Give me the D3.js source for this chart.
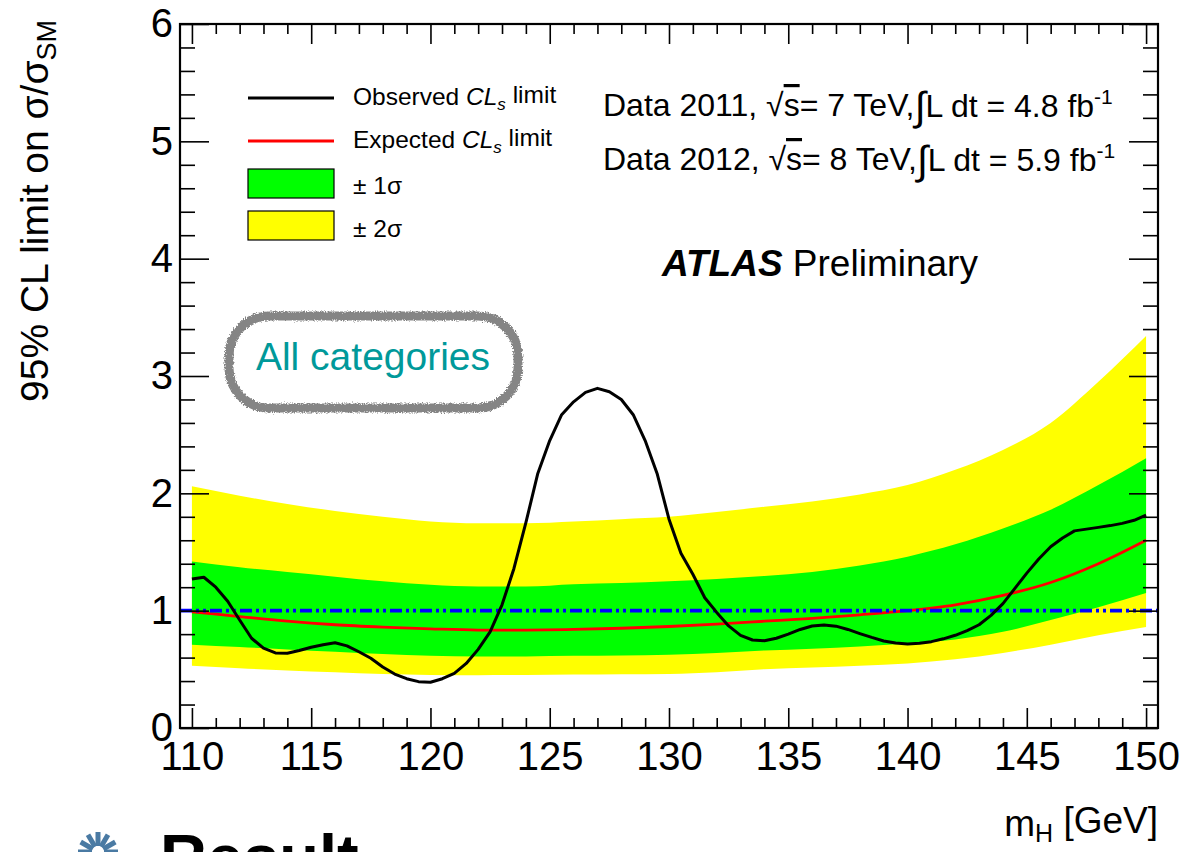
<!DOCTYPE html>
<html>
<head>
<meta charset="utf-8">
<script src="https://cdn.jsdelivr.net/npm/d3@7"></script>
<style>
  html, body { margin: 0; padding: 0; background: #fff; }
  svg { display: block; }
  text { font-family: "Liberation Sans", Arial, Helvetica, sans-serif; }
</style>
</head>
<body>
<svg id="chart" width="1186" height="852"></svg>
<script>
// Higgs mass hypothesis for the observed limit scan (GeV)
const obsMass = [
  110.0, 110.5, 111.0, 111.5, 112.0, 112.5, 113.0, 113.5, 114.0, 114.5,
  115.0, 115.5, 116.0, 116.5, 117.0, 117.5, 118.0, 118.5, 119.0, 119.5,
  120.0, 120.5, 121.0, 121.5, 122.0, 122.5, 123.0, 123.5, 124.0, 124.5,
  125.0, 125.5, 126.0, 126.5, 127.0, 127.5, 128.0, 128.5, 129.0, 129.5,
  130.0, 130.5, 131.0, 131.5, 132.0, 132.5, 133.0, 133.5, 134.0, 134.5,
  135.0, 135.5, 136.0, 136.5, 137.0, 137.5, 138.0, 138.5, 139.0, 139.5,
  140.0, 140.5, 141.0, 141.5, 142.0, 142.5, 143.0, 143.5, 144.0, 144.5,
  145.0, 145.5, 146.0, 146.5, 147.0, 147.5, 148.0, 148.5, 149.0, 149.5,
  150.0
];
// Observed 95% CL limit on sigma/sigma_SM
const obsLimit = [
  1.27, 1.285, 1.20, 1.08, 0.92, 0.765, 0.68, 0.64, 0.637, 0.66,
  0.688, 0.71, 0.727, 0.70, 0.65, 0.594, 0.52, 0.46, 0.42, 0.395,
  0.39, 0.42, 0.466, 0.55, 0.67, 0.82, 1.05, 1.36, 1.75, 2.17,
  2.45, 2.67, 2.78, 2.86, 2.895, 2.866, 2.80, 2.67, 2.45, 2.17,
  1.78, 1.49, 1.31, 1.11, 0.985, 0.87, 0.79, 0.75, 0.744, 0.765,
  0.80, 0.84, 0.869, 0.878, 0.868, 0.84, 0.805, 0.772, 0.742, 0.725,
  0.716, 0.722, 0.736, 0.76, 0.79, 0.83, 0.88, 0.96, 1.06, 1.19,
  1.32, 1.44, 1.545, 1.62, 1.68, 1.695, 1.71, 1.725, 1.744, 1.77,
  1.815
];

// Expected limit and its uncertainty bands
const expMass = [110, 112, 114, 116, 118, 120, 122, 124, 126, 128, 130,
                 132, 134, 136, 138, 140, 142, 144, 146, 148, 150];
const expLimit = [0.99, 0.95, 0.91, 0.88, 0.86, 0.845, 0.835, 0.835, 0.84, 0.85, 0.865,
                  0.885, 0.91, 0.935, 0.965, 1.00, 1.05, 1.13, 1.24, 1.40, 1.60];
const plus2Sigma = [2.06, 1.98, 1.91, 1.85, 1.80, 1.76, 1.745, 1.745, 1.76, 1.78, 1.80,
                    1.84, 1.885, 1.93, 1.99, 2.07, 2.20, 2.37, 2.60, 2.95, 3.34];
const plus1Sigma = [1.42, 1.37, 1.33, 1.29, 1.25, 1.22, 1.205, 1.205, 1.225, 1.235, 1.25,
                    1.27, 1.295, 1.33, 1.385, 1.46, 1.565, 1.70, 1.86, 2.07, 2.30];
const minus1Sigma = [0.71, 0.69, 0.67, 0.65, 0.63, 0.615, 0.61, 0.61, 0.615, 0.618, 0.625,
                     0.64, 0.66, 0.675, 0.695, 0.72, 0.755, 0.82, 0.92, 1.03, 1.15];
const minus2Sigma = [0.53, 0.51, 0.49, 0.475, 0.46, 0.452, 0.45, 0.452, 0.455, 0.458, 0.46,
                     0.475, 0.50, 0.515, 0.53, 0.55, 0.585, 0.64, 0.71, 0.79, 0.86];

// Standard Model reference
const smLevel = 1;

// Axis ticks
const xMajorTicks = [110, 115, 120, 125, 130, 135, 140, 145, 150];
const xMinorTicks = d3.range(110, 151).filter(v => v % 5 !== 0);
const yMajorTicks = [0, 1, 2, 3, 4, 5, 6];
const yMinorTicks = d3.range(1, 30).filter(i => i % 5 !== 0).map(i => i / 5);

const svg = d3.select("#chart");

const frame = { left: 180, right: 1158, top: 24, bottom: 728 };
const x = d3.scaleLinear().domain([109.5, 150.5]).range([frame.left, frame.right]);
const y = d3.scaleLinear().domain([0, 6]).range([frame.bottom, frame.top]);

// ---- Bands ----
const bandRows = expMass.map((m, i) => ({
  m, exp: expLimit[i],
  p2: plus2Sigma[i], p1: plus1Sigma[i], m1: minus1Sigma[i], m2: minus2Sigma[i]
}));

svg.append("path")
  .datum(bandRows)
  .attr("fill", "#ffff00")
  .attr("d", d3.area().x(d => x(d.m)).y0(d => y(d.m2)).y1(d => y(d.p2)).curve(d3.curveMonotoneX));

svg.append("path")
  .datum(bandRows)
  .attr("fill", "#00ff00")
  .attr("d", d3.area().x(d => x(d.m)).y0(d => y(d.m1)).y1(d => y(d.p1)).curve(d3.curveMonotoneX));

// ---- Expected limit ----
svg.append("path")
  .datum(bandRows)
  .attr("fill", "none")
  .attr("stroke", "#ff0000")
  .attr("stroke-width", 2.8)
  .attr("d", d3.line().x(d => x(d.m)).y(d => y(d.exp)).curve(d3.curveMonotoneX));

// ---- SM = 1 line ----
svg.append("line")
  .attr("x1", frame.left).attr("x2", frame.right)
  .attr("y1", y(smLevel)).attr("y2", y(smLevel))
  .attr("stroke", "#0000ff")
  .attr("stroke-width", 3.6)
  .attr("stroke-dasharray", "12,4,3,4,3,4");

// ---- Observed limit ----
const obsRows = obsMass.map((m, i) => ({ m, v: obsLimit[i] }));
svg.append("path")
  .datum(obsRows)
  .attr("fill", "none")
  .attr("stroke", "#000")
  .attr("stroke-width", 3)
  .attr("stroke-linejoin", "round")
  .attr("d", d3.line().x(d => x(d.m)).y(d => y(d.v)));

// ---- Axes (ticks pointing inwards, mirrored on all four sides) ----
const tickStroke = g => g.selectAll("line").attr("stroke", "#000").attr("stroke-width", 1.6);
const noDomain = g => g.select(".domain").remove();
const labelFont = g => g.selectAll("text")
  .attr("font-family", "'Liberation Sans', Arial, sans-serif")
  .attr("font-size", 40).attr("fill", "#000");

// bottom
svg.append("g").attr("transform", `translate(0,${frame.bottom})`)
  .call(d3.axisBottom(x).tickValues(xMajorTicks).tickSize(-20).tickPadding(14).tickFormat(d3.format("d")))
  .call(noDomain).call(tickStroke).call(labelFont);
svg.append("g").attr("transform", `translate(0,${frame.bottom})`)
  .call(d3.axisBottom(x).tickValues(xMinorTicks).tickSize(-10).tickFormat(""))
  .call(noDomain).call(tickStroke);
// top
svg.append("g").attr("transform", `translate(0,${frame.top})`)
  .call(d3.axisTop(x).tickValues(xMajorTicks).tickSize(-20).tickFormat(""))
  .call(noDomain).call(tickStroke);
svg.append("g").attr("transform", `translate(0,${frame.top})`)
  .call(d3.axisTop(x).tickValues(xMinorTicks).tickSize(-10).tickFormat(""))
  .call(noDomain).call(tickStroke);
// left
svg.append("g").attr("transform", `translate(${frame.left},0)`)
  .call(d3.axisLeft(y).tickValues(yMajorTicks).tickSize(-29).tickPadding(7).tickFormat(d3.format("d")))
  .call(noDomain).call(tickStroke).call(labelFont);
svg.append("g").attr("transform", `translate(${frame.left},0)`)
  .call(d3.axisLeft(y).tickValues(yMinorTicks).tickSize(-15).tickFormat(""))
  .call(noDomain).call(tickStroke);
// right
svg.append("g").attr("transform", `translate(${frame.right},0)`)
  .call(d3.axisRight(y).tickValues(yMajorTicks).tickSize(-29).tickFormat(""))
  .call(noDomain).call(tickStroke);
svg.append("g").attr("transform", `translate(${frame.right},0)`)
  .call(d3.axisRight(y).tickValues(yMinorTicks).tickSize(-15).tickFormat(""))
  .call(noDomain).call(tickStroke);

// frame
svg.append("rect")
  .attr("x", frame.left).attr("y", frame.top)
  .attr("width", frame.right - frame.left).attr("height", frame.bottom - frame.top)
  .attr("fill", "none").attr("stroke", "#000").attr("stroke-width", 2.2);

// ---- Axis titles ----
const yTitle = svg.append("text")
  .attr("transform", "translate(48,20) rotate(-90)")
  .attr("text-anchor", "end")
  .attr("font-size", 39);
yTitle.append("tspan").text("95% CL limit on σ/σ");
yTitle.append("tspan").attr("dy", "0.3em").attr("font-size", 27).text("SM");

const xTitle = svg.append("text")
  .attr("x", 1158).attr("y", 836)
  .attr("text-anchor", "end")
  .attr("font-size", 37);
xTitle.append("tspan").text("m");
xTitle.append("tspan").attr("dy", "0.25em").attr("font-size", 25).text("H");
xTitle.append("tspan").attr("dy", "-0.25em").text(" [GeV]");

// ---- Legend ----
const legend = svg.append("g");
const legX0 = 248, legX1 = 334, legText = 353;
legend.append("line").attr("x1", legX0).attr("x2", legX1).attr("y1", 98).attr("y2", 98)
  .attr("stroke", "#000").attr("stroke-width", 3);
legend.append("line").attr("x1", legX0).attr("x2", legX1).attr("y1", 141).attr("y2", 141)
  .attr("stroke", "#ff0000").attr("stroke-width", 3);
legend.append("rect").attr("x", legX0).attr("y", 169).attr("width", legX1 - legX0).attr("height", 29)
  .attr("fill", "#00ff00").attr("stroke", "#000").attr("stroke-width", 1.2);
legend.append("rect").attr("x", legX0).attr("y", 211).attr("width", legX1 - legX0).attr("height", 29)
  .attr("fill", "#ffff00").attr("stroke", "#000").attr("stroke-width", 1.2);

function clsLabel(prefix, yBase) {
  const t = legend.append("text").attr("x", legText).attr("y", yBase).attr("font-size", 24.5);
  t.append("tspan").text(prefix + " ");
  t.append("tspan").attr("font-style", "italic").text("CL");
  t.append("tspan").attr("font-style", "italic").attr("font-size", 17).attr("dy", "0.3em").text("s");
  t.append("tspan").attr("dy", "-0.3em").text(" limit");
}
clsLabel("Observed", 105);
clsLabel("Expected", 148);
legend.append("text").attr("x", legText).attr("y", 194).attr("font-size", 24.5).text("± 1σ");
legend.append("text").attr("x", legText).attr("y", 237).attr("font-size", 24.5).text("± 2σ");

// ---- Luminosity labels ----
function lumiLine(year, energy, lumi, yBase) {
  const t = svg.append("text").attr("x", 603).attr("y", yBase).attr("font-size", 32);
  t.append("tspan").text(`Data ${year}, √`);
  t.append("tspan").attr("text-decoration", "overline").text("s");
  t.append("tspan").text(`= ${energy} TeV,`);
  t.append("tspan").attr("font-size", 40).attr("dy", "0.1em").text("∫");
  t.append("tspan").attr("dy", "-0.1em").text(`L dt = ${lumi} fb`);
  t.append("tspan").attr("font-size", 21).attr("dy", "-0.6em").text("-1");
}
lumiLine("2011", "7", "4.8", 116);
lumiLine("2012", "8", "5.9", 170);

const atlas = svg.append("text").attr("x", 662).attr("y", 276).attr("font-size", 37);
atlas.append("tspan").attr("font-weight", "bold").attr("font-style", "italic").text("ATLAS");
atlas.append("tspan").text(" Preliminary");

// ---- Category tag ----
const defs = svg.append("defs");
const rough = defs.append("filter").attr("id", "rough")
  .attr("x", "-10%").attr("y", "-20%").attr("width", "120%").attr("height", "140%");
rough.append("feTurbulence").attr("type", "fractalNoise").attr("baseFrequency", 0.9)
  .attr("numOctaves", 2).attr("seed", 3).attr("result", "noise");
rough.append("feDisplacementMap").attr("in", "SourceGraphic").attr("in2", "noise")
  .attr("scale", 5).attr("xChannelSelector", "R").attr("yChannelSelector", "G");

svg.append("rect")
  .attr("x", 229).attr("y", 316).attr("width", 289).attr("height", 92)
  .attr("rx", 40).attr("ry", 40)
  .attr("fill", "#fff").attr("stroke", "#858585").attr("stroke-width", 9)
  .attr("filter", "url(#rough)");
svg.append("text")
  .attr("x", 373).attr("y", 370)
  .attr("text-anchor", "middle")
  .attr("font-family", "Lato, 'Open Sans', sans-serif")
  .attr("font-size", 39)
  .attr("fill", "#00999a")
  .text("All categories");

// ---- Slide heading below the plot ----
const bullet = svg.append("g").attr("transform", "translate(98,852)");
[-90, -60, -30, -120, -150, 0, 180].forEach(a => {
  const r = a * Math.PI / 180;
  bullet.append("line")
    .attr("x1", Math.cos(r) * 6).attr("y1", Math.sin(r) * 6)
    .attr("x2", Math.cos(r) * 20).attr("y2", Math.sin(r) * 20)
    .attr("stroke", "#4a7aa3").attr("stroke-width", 5);
});
svg.append("text")
  .attr("x", 160).attr("y", 880)
  .attr("font-size", 65).attr("font-weight", "bold")
  .text("Result");
</script>
</body>
</html>
